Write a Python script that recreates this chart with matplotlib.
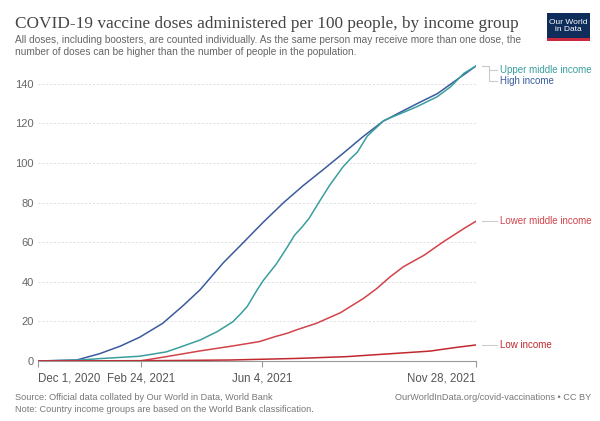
"""
COVID-19 vaccine doses per 100 people by income group (OWID style line chart).
"""
import datetime as dt

import matplotlib
matplotlib.use("Agg")
import matplotlib.pyplot as plt
import matplotlib.dates as mdates
from matplotlib.patches import Rectangle

plt.rcParams["font.family"] = ["Liberation Sans", "DejaVu Sans"]

START = dt.date(2020, 12, 1)

# values: (days since Dec 1 2020, doses per 100)
high_days = [0, 32, 51, 68, 84, 103, 120, 134, 153, 170, 186, 203, 219, 236, 252, 269, 285, 299, 315, 330, 346, 362]
high_vals = [0, 0.5, 3.7, 7.5, 12, 19, 28, 36, 49.5, 60, 70, 80, 88.5, 96.8, 104.8, 113.5, 121, 125.5, 130.5, 135, 142, 149]

upper_days = [0, 35, 51, 84, 106, 117, 134, 148, 161, 167, 173, 181, 186, 197, 206, 212, 218, 224, 232, 241, 252, 258, 264, 272, 286, 299, 313, 330, 341, 352, 362]
upper_vals = [0, 0.5, 1.2, 2.4, 4.6, 6.9, 10.6, 14.8, 19.8, 23.5, 27.6, 35.8, 40.5, 49, 57.5, 63.5, 67.5, 72, 80, 88.7, 98, 102, 105.5, 113.5, 121.5, 124.8, 128.4, 133.5, 138.5, 145.3, 149]

lower_days = [0, 84, 106, 134, 161, 183, 197, 206, 214, 230, 250, 269, 280, 291, 302, 319, 335, 352, 362]
lower_vals = [0, 0, 2.2, 5.1, 7.6, 9.8, 12.5, 14, 15.8, 19, 24.4, 31.6, 36.6, 42.5, 47.6, 53.4, 60.2, 66.9, 70.6]

low_days = [0, 103, 159, 214, 255, 297, 324, 346, 362]
low_vals = [0, 0.2, 0.5, 1.3, 2.2, 3.9, 5.0, 6.9, 8.1]

series = [
    ("High income", high_days, high_vals, "#3a5b9e"),
    ("Upper middle income", upper_days, upper_vals, "#3a9e9e"),
    ("Lower middle income", lower_days, lower_vals, "#d2434b"),
    ("Low income", low_days, low_vals, "#c0282e"),
]

tick_dates = [dt.date(2020, 12, 1), dt.date(2021, 2, 24), dt.date(2021, 6, 4), dt.date(2021, 11, 28)]
tick_labels = ["Dec 1, 2020", "Feb 24, 2021", "Jun 4, 2021", "Nov 28, 2021"]
y_ticks = [0, 20, 40, 60, 80, 100, 120, 140]

# label y positions (data units), nudged apart like the original
label_pos = {
    "Upper middle income": 147.2,
    "High income": 141.4,
    "Lower middle income": 70.6,
    "Low income": 8.1,
}

W, H = 600, 421
fig = plt.figure(figsize=(6, 4.21), dpi=100)
ax = fig.add_axes([38 / W, 60 / H, 438 / W, 297 / H])

for name, days, vals, color in series:
    dates = [START + dt.timedelta(days=d) for d in days]
    ax.plot(dates, vals, color=color, lw=1.1)

end_date = tick_dates[-1]
ax.set_xlim(START, end_date)
ax.set_ylim(0, 150)
ax.set_yticks(y_ticks)
ax.set_yticklabels([str(v) for v in y_ticks], fontsize=8, color="#666666")
ax.set_xticks(tick_dates)
ax.set_xticklabels(tick_labels, fontsize=8.3, color="#555555")
xl = ax.get_xticklabels()
xl[0].set_ha("left")
xl[-1].set_ha("right")
ax.tick_params(axis="y", length=0, pad=3)
ax.tick_params(axis="x", length=4, color="#999999", pad=4)
ax.grid(axis="y", color="#dddddd", linestyle=(0, (2, 2)), lw=0.7)
for s in ["top", "right", "left"]:
    ax.spines[s].set_visible(False)
ax.spines["bottom"].set_color("#999999")
ax.spines["bottom"].set_linewidth(0.8)
ax.set_axisbelow(True)

# end labels with connectors
colors = {name: c for name, _, _, c in series}
end_vals = {name: v[-1] for name, _, v, _ in series}
xe = mdates.date2num(end_date)
for name, ly in label_pos.items():
    fx0, fy0 = fig.transFigure.inverted().transform(ax.transData.transform((xe, end_vals[name])))
    _, fy = fig.transFigure.inverted().transform(ax.transData.transform((xe, ly)))
    fig.lines.append(plt.Line2D([fx0 + 6 / W, fx0 + 13 / W, fx0 + 13 / W, fx0 + 21 / W],
                                [fy0, fy0, fy, fy], color="#cccccc", lw=0.8,
                                transform=fig.transFigure))
    fig.text(fx0 + 24 / W, fy, name, fontsize=7, color=colors[name], va="center", ha="left")

# header
fig.text(15 / W, 1 - 24 / H, "COVID-19 vaccine doses administered per 100 people, by income group",
         family="Liberation Serif", fontsize=12.4, color="#444444", va="center")
fig.text(15 / W, 1 - 40 / H,
         "All doses, including boosters, are counted individually. As the same person may receive more than one dose, the",
         fontsize=7.3, color="#666666", va="center")
fig.text(15 / W, 1 - 52 / H,
         "number of doses can be higher than the number of people in the population.",
         fontsize=7.3, color="#666666", va="center")

# logo
fig.patches.append(Rectangle((547 / W, 1 - 41 / H), 43 / W, 28 / H, transform=fig.transFigure,
                             facecolor="#0f2d5a", edgecolor="none"))
fig.patches.append(Rectangle((547 / W, 1 - 41 / H), 43 / W, 3 / H, transform=fig.transFigure,
                             facecolor="#c9283e", edgecolor="none"))
fig.text(568.5 / W, 1 - 26 / H, "Our World\nin Data", fontsize=6, color="white",
         ha="center", va="center", linespacing=1.0)

# footer
fig.text(15 / W, 1 - 398 / H, "Source: Official data collated by Our World in Data, World Bank",
         fontsize=6.6, color="#777777", va="center")
fig.text(15 / W, 1 - 409 / H, "Note: Country income groups are based on the World Bank classification.",
         fontsize=6.6, color="#777777", va="center")
fig.text(591 / W, 1 - 398 / H, "OurWorldInData.org/covid-vaccinations • CC BY",
         fontsize=6.6, color="#777777", va="center", ha="right")

fig.savefig("out.png", dpi=100)
